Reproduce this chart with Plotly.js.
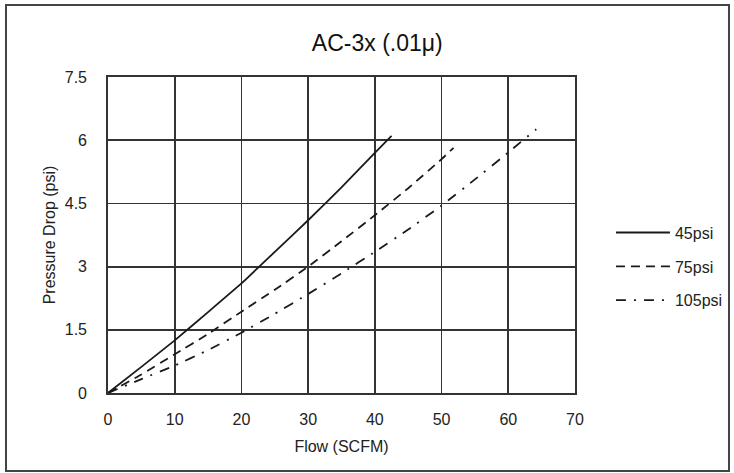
<!DOCTYPE html>
<html>
<head>
<meta charset="utf-8">
<script src="https://cdn.plot.ly/plotly-3.0.1.min.js"></script>
<style>
  html, body { margin: 0; padding: 0; background: #fff; }
  #wrap { position: relative; width: 734px; height: 473px; }
  #chart { width: 734px; height: 473px; }
  #frame { position: absolute; left: 5px; top: 4px; width: 721px; height: 464px;
           border: 2px solid #444; pointer-events: none; }
</style>
</head>
<body>
<div id="wrap">
  <div id="chart"></div>
  <div id="frame"></div>
</div>
<script>
// Flow (SCFM) vs pressure drop (psi) for each inlet pressure
const flow45 = [0, 5, 10, 15, 20, 25, 30, 35, 40, 42.5];
const drop45 = [0, 0.62, 1.25, 1.92, 2.6, 3.35, 4.1, 4.88, 5.7, 6.1];

const flow75 = [0, 5, 10, 15, 20, 25, 30, 35, 40, 45, 50, 51.8];
const drop75 = [0, 0.44, 0.92, 1.4, 1.93, 2.45, 3.0, 3.6, 4.22, 4.86, 5.55, 5.82];

const flow105 = [0, 5, 10, 15, 20, 25, 30, 35, 40, 45, 50, 55, 60, 64.2];
const drop105 = [0, 0.33, 0.65, 1.02, 1.43, 1.88, 2.35, 2.84, 3.35, 3.88, 4.45, 5.07, 5.71, 6.26];

const seriesNames = ['45psi', '75psi', '105psi'];
const xTicks = [0, 10, 20, 30, 40, 50, 60, 70];
const yTicks = [0, 1.5, 3, 4.5, 6, 7.5];
const yTickText = ['0', '1.5', '3', '4.5', '6', '7.5'];

const FONT = '"Liberation Sans Narrow", "Arial Narrow", "Liberation Sans", Arial, sans-serif';
const INK = '#1a1a1a';

const traces = [
  { x: flow45, y: drop45, name: seriesNames[0], legendgroup: 'a',
    mode: 'lines', line: { color: INK, width: 1.8, dash: 'solid', shape: 'spline', smoothing: 0.3 } },
  { x: flow75, y: drop75, name: seriesNames[1], legendgroup: 'b',
    mode: 'lines', line: { color: INK, width: 1.8, dash: '9px,6px', shape: 'spline', smoothing: 0.3 } },
  { x: flow105, y: drop105, name: seriesNames[2], legendgroup: 'c',
    mode: 'lines', line: { color: INK, width: 1.8, dash: '10px,8px,2px,8px', shape: 'spline', smoothing: 0.3 } }
];

const layout = {
  width: 734, height: 473,
  margin: { l: 108, r: 159, t: 77, b: 80, pad: 0, autoexpand: false },
  paper_bgcolor: '#fff', plot_bgcolor: '#fff',
  font: { family: FONT, size: 16, color: '#222' },
  showlegend: true,
  title: { text: 'AC-3x (.01μ)', font: { family: FONT, size: 23, color: '#111' },
           xref: 'container', x: 0.514, xanchor: 'center',
           yref: 'container', y: 0.909, yanchor: 'middle' },
  xaxis: {
    range: [0, 70], tickmode: 'array', tickvals: xTicks,
    showgrid: true, gridcolor: '#333', gridwidth: 1.8,
    showline: true, mirror: true, linecolor: '#333', linewidth: 1.8,
    zeroline: false, ticks: '', ticklabelstandoff: 11,
    tickfont: { family: FONT, size: 16, color: '#222' },
    title: { text: 'Flow (SCFM)', font: { family: FONT, size: 16, color: '#222' }, standoff: 14 },
    fixedrange: true
  },
  yaxis: {
    range: [0, 7.5], tickmode: 'array', tickvals: yTicks, ticktext: yTickText,
    showgrid: true, gridcolor: '#333', gridwidth: 1.8,
    showline: true, mirror: true, linecolor: '#333', linewidth: 1.8,
    zeroline: false, ticks: '', ticklabelstandoff: 16,
    tickfont: { family: FONT, size: 16, color: '#222' },
    title: { text: 'Pressure Drop (psi)', font: { family: FONT, size: 16, color: '#222' }, standoff: 5 },
    fixedrange: true
  },
  legend: {
    x: 1.077, xanchor: 'left', y: 0.40, yanchor: 'middle',
    traceorder: 'grouped', tracegroupgap: 10,
    itemwidth: 54, bgcolor: 'rgba(0,0,0,0)',
    font: { family: FONT, size: 16, color: '#222' }
  }
};

Plotly.newPlot('chart', traces, layout, { displayModeBar: false, staticPlot: true });
</script>
</body>
</html>
